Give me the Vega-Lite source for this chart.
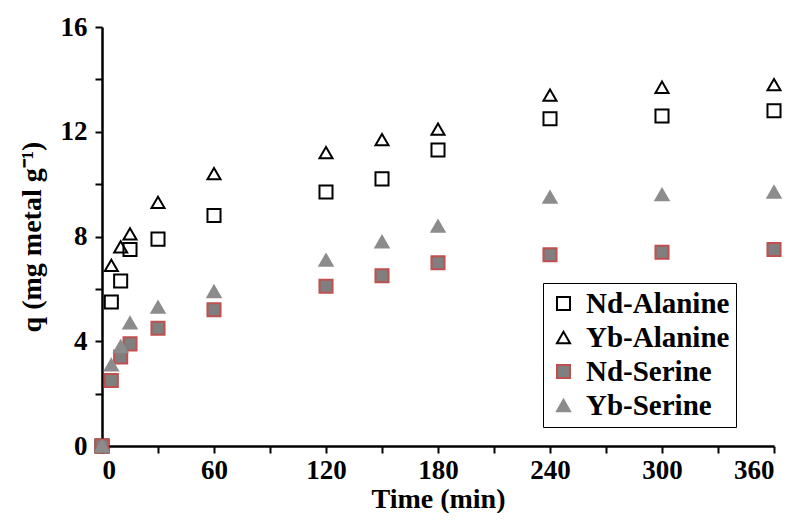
{
  "$schema": "https://vega.github.io/schema/vega-lite/v6.json",
  "width": 672,
  "height": 419,
  "padding": {"left": 18, "top": 13, "right": 0, "bottom": 0},
  "background": "white",
  "config": {
    "view": {"stroke": null},
    "font": "Liberation Serif",
    "axis": {"grid": false, "domainColor": "black", "domainWidth": 2.5, "tickColor": "black", "tickWidth": 2, "tickSize": 7,
      "labelFont": "Liberation Serif", "labelFontWeight": "bold", "labelFontSize": 27, "labelColor": "black",
      "titleFont": "Liberation Serif", "titleFontWeight": "bold", "titleFontSize": 28, "titleColor": "black"}
  },
  "data": {"values": [
    {"t": 0, "q": 0, "s": "Nd-Alanine"}, {"t": 5, "q": 5.5, "s": "Nd-Alanine"}, {"t": 10, "q": 6.3, "s": "Nd-Alanine"}, {"t": 15, "q": 7.5, "s": "Nd-Alanine"}, {"t": 30, "q": 7.9, "s": "Nd-Alanine"}, {"t": 60, "q": 8.8, "s": "Nd-Alanine"}, {"t": 120, "q": 9.7, "s": "Nd-Alanine"}, {"t": 150, "q": 10.2, "s": "Nd-Alanine"}, {"t": 180, "q": 11.3, "s": "Nd-Alanine"}, {"t": 240, "q": 12.5, "s": "Nd-Alanine"}, {"t": 300, "q": 12.6, "s": "Nd-Alanine"}, {"t": 360, "q": 12.8, "s": "Nd-Alanine"},
    {"t": 0, "q": 0, "s": "Yb-Alanine"}, {"t": 5, "q": 6.9, "s": "Yb-Alanine"}, {"t": 10, "q": 7.6, "s": "Yb-Alanine"}, {"t": 15, "q": 8.1, "s": "Yb-Alanine"}, {"t": 30, "q": 9.3, "s": "Yb-Alanine"}, {"t": 60, "q": 10.4, "s": "Yb-Alanine"}, {"t": 120, "q": 11.2, "s": "Yb-Alanine"}, {"t": 150, "q": 11.7, "s": "Yb-Alanine"}, {"t": 180, "q": 12.1, "s": "Yb-Alanine"}, {"t": 240, "q": 13.4, "s": "Yb-Alanine"}, {"t": 300, "q": 13.7, "s": "Yb-Alanine"}, {"t": 360, "q": 13.8, "s": "Yb-Alanine"},
    {"t": 0, "q": 0, "s": "Nd-Serine"}, {"t": 5, "q": 2.5, "s": "Nd-Serine"}, {"t": 10, "q": 3.4, "s": "Nd-Serine"}, {"t": 15, "q": 3.9, "s": "Nd-Serine"}, {"t": 30, "q": 4.5, "s": "Nd-Serine"}, {"t": 60, "q": 5.2, "s": "Nd-Serine"}, {"t": 120, "q": 6.1, "s": "Nd-Serine"}, {"t": 150, "q": 6.5, "s": "Nd-Serine"}, {"t": 180, "q": 7.0, "s": "Nd-Serine"}, {"t": 240, "q": 7.3, "s": "Nd-Serine"}, {"t": 300, "q": 7.4, "s": "Nd-Serine"}, {"t": 360, "q": 7.5, "s": "Nd-Serine"},
    {"t": 0, "q": 0, "s": "Yb-Serine"}, {"t": 5, "q": 3.1, "s": "Yb-Serine"}, {"t": 10, "q": 3.8, "s": "Yb-Serine"}, {"t": 15, "q": 4.7, "s": "Yb-Serine"}, {"t": 30, "q": 5.3, "s": "Yb-Serine"}, {"t": 60, "q": 5.9, "s": "Yb-Serine"}, {"t": 120, "q": 7.1, "s": "Yb-Serine"}, {"t": 150, "q": 7.8, "s": "Yb-Serine"}, {"t": 180, "q": 8.4, "s": "Yb-Serine"}, {"t": 240, "q": 9.5, "s": "Yb-Serine"}, {"t": 300, "q": 9.6, "s": "Yb-Serine"}, {"t": 360, "q": 9.7, "s": "Yb-Serine"}
  ]},
  "mark": {"type": "point", "size": 170, "strokeWidth": 2, "opacity": 1, "filled": false},
  "encoding": {
    "x": {"field": "t", "type": "quantitative", "title": "Time (min)", "scale": {"domain": [0, 360], "nice": false},
      "axis": {"values": [0, 30, 60, 90, 120, 150, 180, 210, 240, 270, 300, 330, 360], "labelExpr": "datum.value % 60 == 0 ? datum.label : ''", "titlePadding": 2, "labelPadding": 4}},
    "y": {"field": "q", "type": "quantitative", "title": "q (mg metal g⁻¹)", "scale": {"domain": [0, 16], "nice": false},
      "axis": {"values": [0, 2, 4, 6, 8, 10, 12, 14, 16], "labelExpr": "datum.value % 4 == 0 ? datum.label : ''", "titlePadding": 14, "labelPadding": 8}},
    "shape": {"field": "s", "type": "nominal", "sort": ["Nd-Alanine", "Yb-Alanine", "Nd-Serine", "Yb-Serine"],
      "scale": {"domain": ["Nd-Alanine", "Yb-Alanine", "Nd-Serine", "Yb-Serine"], "range": ["square", "triangle-up", "square", "triangle-up"]},
      "legend": {"title": null, "orient": "none", "legendX": 441, "legendY": 256, "strokeColor": "black", "padding": 6,
        "labelFont": "Liberation Serif", "labelFontWeight": "bold", "labelFontSize": 29, "labelColor": "black", "symbolSize": 170, "rowPadding": 4, "labelOffset": 8, "symbolStrokeWidth": 2}},
    "fill": {"field": "s", "type": "nominal", "scale": {"domain": ["Nd-Alanine", "Yb-Alanine", "Nd-Serine", "Yb-Serine"], "range": ["transparent", "transparent", "#7f7f7f", "#8c8c8c"]}},
    "stroke": {"field": "s", "type": "nominal", "scale": {"domain": ["Nd-Alanine", "Yb-Alanine", "Nd-Serine", "Yb-Serine"], "range": ["black", "black", "#c0504d", "#8c8c8c"]}}
  }
}
